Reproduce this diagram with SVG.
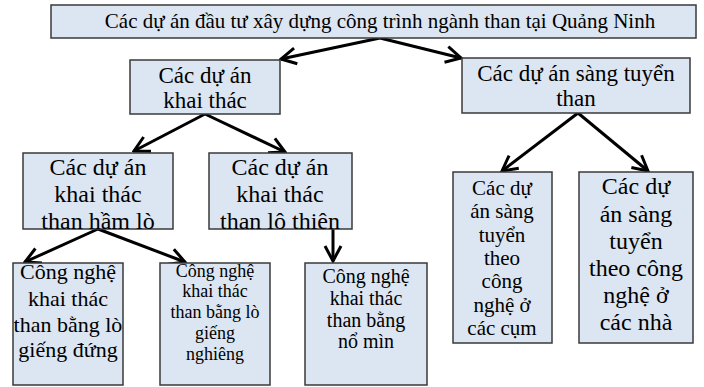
<svg xmlns="http://www.w3.org/2000/svg" width="704" height="387" viewBox="0 0 704 387">
<style>
.box{fill:#dce6f2;stroke:#3a3a3a;stroke-width:1.5}
.t{font-family:'Liberation Serif','DejaVu Serif',serif;fill:#000;text-anchor:middle}
.c{stroke:#000;stroke-width:3;fill:none}
</style>
<defs>
<marker id="ah" markerUnits="userSpaceOnUse" viewBox="0 0 20 20" refX="18" refY="10" markerWidth="20" markerHeight="20" orient="auto">
<path d="M3,2 L18,10 L3,18" fill="none" stroke="#000" stroke-width="3"/>
</marker>
<clipPath id="c1"><rect x="23" y="153" width="150" height="76"/></clipPath>
<clipPath id="c2"><rect x="209" y="153" width="143" height="76"/></clipPath>
</defs>
<rect width="704" height="387" fill="#fff"/>
<g id="connectors">
<line class="c" x1="380" y1="38" x2="281" y2="59" marker-end="url(#ah)"/>
<line class="c" x1="380" y1="38" x2="461" y2="58" marker-end="url(#ah)"/>
<line class="c" x1="205" y1="114" x2="134" y2="151" marker-end="url(#ah)"/>
<line class="c" x1="205" y1="114" x2="285" y2="152" marker-end="url(#ah)"/>
<line class="c" x1="578" y1="113" x2="502" y2="171" marker-end="url(#ah)"/>
<line class="c" x1="578" y1="113" x2="648" y2="171" marker-end="url(#ah)"/>
<line class="c" x1="98" y1="229" x2="25" y2="262" marker-end="url(#ah)"/>
<line class="c" x1="98" y1="229" x2="185" y2="262" marker-end="url(#ah)"/>
<line class="c" x1="333" y1="229" x2="333" y2="261" marker-end="url(#ah)"/>
</g>
<g id="n-root">
<rect class="box" x="51" y="5" width="645" height="33"/>
<text class="t" x="380" y="28" font-size="21">Các dự án đầu tư xây dựng công trình ngành than tại Quảng Ninh</text>
</g>
<g id="n-khaithac">
<rect class="box" x="130" y="60" width="150" height="54"/>
<text class="t" x="205" y="83" font-size="23">Các dự án</text>
<text class="t" x="205" y="108" font-size="23">khai thác</text>
</g>
<g id="n-sangtuyen">
<rect class="box" x="462" y="58" width="228" height="55"/>
<text class="t" x="576" y="81" font-size="23">Các dự án sàng tuyển</text>
<text class="t" x="576" y="106" font-size="23">than</text>
</g>
<g id="n-hamlo">
<rect class="box" x="23" y="153" width="150" height="76"/>
<g clip-path="url(#c1)">
<text class="t" x="98" y="175" font-size="24">Các dự án</text>
<text class="t" x="98" y="202" font-size="24">khai thác</text>
<text class="t" x="98" y="229" font-size="24">than hầm lò</text>
</g>
</g>
<g id="n-lothien">
<rect class="box" x="209" y="153" width="143" height="76"/>
<g clip-path="url(#c2)">
<text class="t" x="280" y="175" font-size="24">Các dự án</text>
<text class="t" x="280" y="202" font-size="24">khai thác</text>
<text class="t" x="280" y="229" font-size="24">than lô thiên</text>
</g>
</g>
<g id="n-cum">
<rect class="box" x="453" y="172" width="99" height="171"/>
<text class="t" x="502" y="195" font-size="21">Các dự</text>
<text class="t" x="502" y="218" font-size="21">án sàng</text>
<text class="t" x="502" y="242" font-size="21">tuyển</text>
<text class="t" x="502" y="265" font-size="21">theo</text>
<text class="t" x="502" y="288" font-size="21">công</text>
<text class="t" x="502" y="312" font-size="21">nghệ ở</text>
<text class="t" x="502" y="335" font-size="21">các cụm</text>
</g>
<g id="n-nha">
<rect class="box" x="579" y="172" width="114" height="171"/>
<text class="t" x="636" y="194" font-size="24">Các dự</text>
<text class="t" x="636" y="222" font-size="24">án sàng</text>
<text class="t" x="636" y="249" font-size="24">tuyển</text>
<text class="t" x="636" y="276" font-size="24">theo công</text>
<text class="t" x="636" y="303" font-size="24">nghệ ở</text>
<text class="t" x="636" y="330" font-size="24">các nhà</text>
</g>
<g id="n-dung">
<rect class="box" x="13" y="263" width="110" height="122"/>
<text class="t" x="68" y="279" font-size="22">Công nghệ</text>
<text class="t" x="68" y="306" font-size="22">khai thác</text>
<text class="t" x="68" y="332" font-size="22">than bằng lò</text>
<text class="t" x="68" y="357" font-size="22">giếng đứng</text>
</g>
<g id="n-nghieng">
<rect class="box" x="160" y="263" width="110" height="122"/>
<text class="t" x="215" y="277" font-size="18">Công nghệ</text>
<text class="t" x="215" y="297" font-size="18">khai thác</text>
<text class="t" x="215" y="318" font-size="18">than bằng lò</text>
<text class="t" x="215" y="339" font-size="18">giếng</text>
<text class="t" x="215" y="360" font-size="18">nghiêng</text>
</g>
<g id="n-nomin">
<rect class="box" x="305" y="263" width="122" height="122"/>
<text class="t" x="366" y="283" font-size="20">Công nghệ</text>
<text class="t" x="366" y="305" font-size="20">khai thác</text>
<text class="t" x="366" y="327" font-size="20">than bằng</text>
<text class="t" x="366" y="348" font-size="20">nổ mìn</text>
</g>
</svg>
